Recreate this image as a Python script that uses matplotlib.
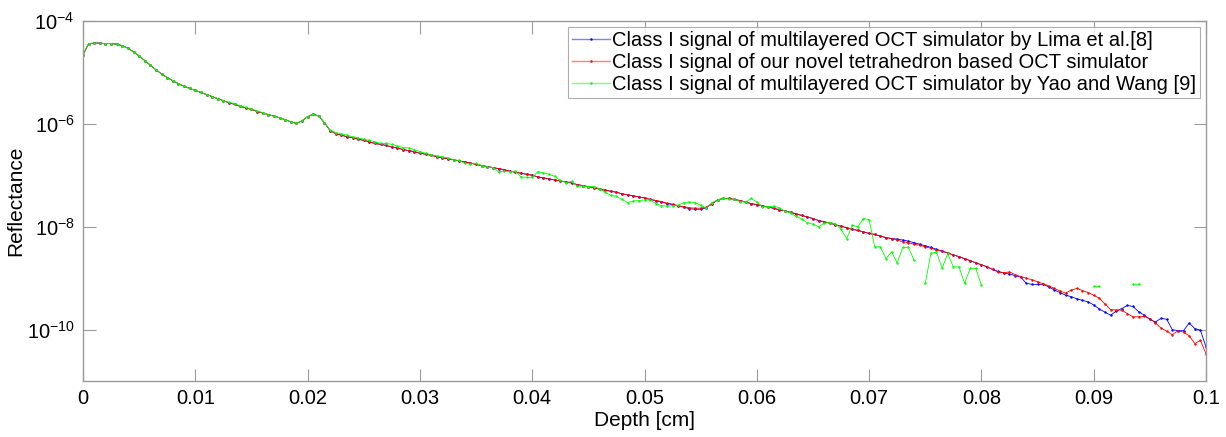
import numpy as np
import matplotlib
matplotlib.use("Agg")
import matplotlib.pyplot as plt

plt.rcParams["font.family"] = ["Liberation Sans", "DejaVu Sans"]
plt.rcParams["mathtext.fontset"] = "custom"
plt.rcParams["mathtext.rm"] = "Liberation Sans"
plt.rcParams["mathtext.default"] = "regular"

# depth grid, 0 .. 0.1 cm in 0.0005 steps (201 samples)
depth = np.arange(201) * 0.0005

# log10 reflectance
log_red = [
    -4.66, -4.44, -4.43, -4.43, -4.44, -4.44, -4.45, -4.48, -4.53, -4.60,
    -4.68, -4.77, -4.86, -4.95, -5.03, -5.10, -5.16, -5.22, -5.27, -5.31,
    -5.35, -5.39, -5.43, -5.47, -5.51, -5.55, -5.59, -5.62, -5.66, -5.69,
    -5.72, -5.76, -5.79, -5.82, -5.85, -5.88, -5.92, -5.96, -5.99, -5.94,
    -5.86, -5.81, -5.85, -5.98, -6.13, -6.19, -6.22, -6.25, -6.27, -6.30,
    -6.32, -6.35, -6.38, -6.40, -6.42, -6.45, -6.47, -6.50, -6.52, -6.54,
    -6.57, -6.59, -6.61, -6.64, -6.66, -6.68, -6.70, -6.72, -6.74, -6.76,
    -6.79, -6.81, -6.83, -6.85, -6.87, -6.89, -6.92, -6.94, -6.96, -6.98,
    -7.00, -7.03, -7.05, -7.07, -7.09, -7.11, -7.13, -7.15, -7.18, -7.20,
    -7.22, -7.24, -7.27, -7.29, -7.31, -7.33, -7.36, -7.38, -7.40, -7.42,
    -7.44, -7.47, -7.49, -7.51, -7.54, -7.56, -7.59, -7.61, -7.63, -7.64,
    -7.64, -7.62, -7.55, -7.48, -7.45, -7.45, -7.47, -7.49, -7.52, -7.55,
    -7.57, -7.59, -7.62, -7.64, -7.67, -7.69, -7.72, -7.75, -7.78, -7.81,
    -7.84, -7.88, -7.91, -7.93, -7.96, -7.99, -8.02, -8.05, -8.07, -8.10,
    -8.13, -8.15, -8.18, -8.21, -8.23, -8.26, -8.29, -8.31, -8.34, -8.36,
    -8.39, -8.42, -8.45, -8.48, -8.51, -8.55, -8.58, -8.62, -8.66, -8.70,
    -8.74, -8.78, -8.83, -8.88, -8.89, -8.88, -8.93, -8.97, -9.00, -9.03,
    -9.07, -9.11, -9.15, -9.20, -9.25, -9.29, -9.23, -9.20, -9.24, -9.28,
    -9.33, -9.39, -9.50, -9.61, -9.62, -9.62, -9.69, -9.75, -9.75, -9.74,
    -9.79, -9.87, -9.97, -10.03, -10.10, -10.02, -10.05, -10.12, -10.27, -10.21,
    -10.47,
]

log_blue = [
    -4.66, -4.44, -4.43, -4.43, -4.44, -4.44, -4.45, -4.48, -4.53, -4.60,
    -4.68, -4.77, -4.86, -4.95, -5.03, -5.10, -5.16, -5.22, -5.27, -5.31,
    -5.35, -5.39, -5.43, -5.47, -5.51, -5.55, -5.59, -5.62, -5.66, -5.69,
    -5.72, -5.76, -5.79, -5.82, -5.85, -5.88, -5.92, -5.96, -5.99, -5.94,
    -5.86, -5.81, -5.85, -5.98, -6.13, -6.19, -6.22, -6.25, -6.27, -6.30,
    -6.32, -6.35, -6.38, -6.40, -6.42, -6.45, -6.47, -6.50, -6.52, -6.54,
    -6.57, -6.59, -6.61, -6.64, -6.66, -6.68, -6.70, -6.72, -6.74, -6.76,
    -6.79, -6.81, -6.83, -6.85, -6.87, -6.89, -6.92, -6.94, -6.96, -6.98,
    -7.00, -7.03, -7.05, -7.07, -7.09, -7.11, -7.13, -7.15, -7.18, -7.20,
    -7.22, -7.24, -7.27, -7.29, -7.31, -7.33, -7.36, -7.38, -7.40, -7.42,
    -7.44, -7.47, -7.49, -7.52, -7.55, -7.57, -7.60, -7.62, -7.65, -7.66,
    -7.66, -7.63, -7.56, -7.48, -7.45, -7.45, -7.47, -7.49, -7.52, -7.55,
    -7.57, -7.59, -7.62, -7.64, -7.67, -7.69, -7.72, -7.75, -7.78, -7.81,
    -7.84, -7.88, -7.90, -7.93, -7.96, -7.99, -8.02, -8.05, -8.07, -8.10,
    -8.13, -8.15, -8.18, -8.21, -8.23, -8.24, -8.26, -8.28, -8.31, -8.34,
    -8.37, -8.40, -8.44, -8.47, -8.51, -8.55, -8.58, -8.62, -8.66, -8.70,
    -8.74, -8.78, -8.83, -8.87, -8.90, -8.92, -8.95, -8.98, -9.10, -9.12,
    -9.12, -9.12, -9.17, -9.23, -9.28, -9.33, -9.36, -9.40, -9.43, -9.46,
    -9.52, -9.60, -9.66, -9.72, -9.64, -9.59, -9.53, -9.55, -9.65, -9.72,
    -9.80, -9.85, -9.78, -9.80, -10.00, -10.02, -10.02, -9.87, -9.98, -10.01,
    -10.34,
]

nan = np.nan
log_green = [
    -4.66, -4.44, -4.43, -4.43, -4.44, -4.44, -4.45, -4.48, -4.53, -4.60,
    -4.68, -4.77, -4.86, -4.95, -5.03, -5.10, -5.16, -5.22, -5.27, -5.31,
    -5.35, -5.39, -5.43, -5.47, -5.51, -5.55, -5.58, -5.61, -5.65, -5.68,
    -5.71, -5.75, -5.78, -5.82, -5.85, -5.88, -5.92, -5.96, -5.99, -5.94,
    -5.86, -5.81, -5.85, -5.98, -6.12, -6.17, -6.19, -6.22, -6.25, -6.27,
    -6.30, -6.32, -6.35, -6.38, -6.38, -6.40, -6.43, -6.46, -6.47, -6.50,
    -6.54, -6.57, -6.60, -6.62, -6.64, -6.66, -6.70, -6.71, -6.77, -6.78,
    -6.77, -6.81, -6.84, -6.85, -6.93, -6.92, -6.93, -6.92, -7.03, -7.04,
    -7.04, -6.93, -6.95, -6.98, -7.02, -7.10, -7.14, -7.12, -7.21, -7.21,
    -7.22, -7.22, -7.26, -7.33, -7.39, -7.41, -7.47, -7.53, -7.50, -7.49,
    -7.48, -7.48, -7.55, -7.59, -7.60, -7.59, -7.58, -7.53, -7.52, -7.53,
    -7.58, -7.64, -7.53, -7.48, -7.45, -7.46, -7.47, -7.51, -7.52, -7.45,
    -7.52, -7.61, -7.61, -7.60, -7.63, -7.70, -7.73, -7.80, -7.85, -7.92,
    -7.95, -8.00, -7.93, -7.92, -7.94, -8.05, -8.23, -7.97, -8.00, -7.84,
    -7.86, -8.39, -8.39, -8.62, -8.49, -8.70, -8.40, -8.40, -8.65, nan,
    -9.10, -8.52, -8.49, -8.81, -8.52, -8.78, -8.78, -9.10, -8.81, -8.81,
    -9.14, nan, nan, nan, nan, nan, nan, nan, nan, nan,
    nan, nan, nan, nan, nan, nan, nan, nan, nan, nan,
    -9.16, -9.16, nan, nan, nan, nan, nan, -9.12, -9.12, nan,
    nan, nan, nan, nan, nan, nan, nan, nan, nan, nan,
    nan,
]

labels = [
    "Class I signal of multilayered OCT simulator by Lima et al.[8]",
    "Class I signal of our novel tetrahedron based OCT simulator",
    "Class I signal of multilayered OCT simulator by Yao and Wang [9]",
]
colors = ["#0000ff", "#ff0000", "#00ff00"]
legend_colors = ["#7f7fff", "#ff7f7f", "#7fff7f"]

x_ticks = [0, 0.01, 0.02, 0.03, 0.04, 0.05, 0.06, 0.07, 0.08, 0.09, 0.1]
x_tick_labels = ["0", "0.01", "0.02", "0.03", "0.04", "0.05", "0.06",
                 "0.07", "0.08", "0.09", "0.1"]
y_ticks = [1e-10, 1e-8, 1e-6, 1e-4]
y_tick_labels = [r"$10^{-10}$", r"$10^{-8}$", r"$10^{-6}$", r"$10^{-4}$"]


def main():
    fig = plt.figure(figsize=(12.26, 4.37), dpi=100)
    ax = fig.add_axes([0.0677, 0.128, 0.9160, 0.824])

    for vals, col, lab in zip([log_blue, log_red, log_green], colors, labels):
        ax.semilogy(depth, 10.0 ** np.asarray(vals, dtype=float), color=col,
                    linewidth=0.6, marker=".", markersize=1.5, label=lab)

    ax.set_xlim(0, 0.1)
    ax.set_ylim(1e-11, 1e-4)
    ax.set_xticks(x_ticks)
    ax.set_xticklabels(x_tick_labels)
    ax.set_yticks(y_ticks)
    ax.set_yticklabels(y_tick_labels)
    ax.minorticks_off()
    ax.tick_params(direction="in", length=9, width=0.8, color="#9a9a9a",
                   top=True, right=True, labelsize=14.5, pad=6)
    for s in ax.spines.values():
        s.set_color("#9a9a9a")
        s.set_linewidth(1.0)

    ax.set_xlabel("Depth [cm]", fontsize=15, labelpad=2)
    ax.set_ylabel("Reflectance", fontsize=15, labelpad=1)

    leg = ax.legend(loc="upper right", fontsize=14.5, frameon=True, fancybox=False,
                    borderaxespad=0.3, handlelength=1.9, handletextpad=0.1,
                    borderpad=0.2, labelspacing=0.15, markerscale=1.0)
    leg.get_frame().set_edgecolor("#9a9a9a")
    leg.get_frame().set_linewidth(0.8)
    for h, c, dark in zip(leg.get_lines(), legend_colors, colors):
        h.set_color(c)
        h.set_linewidth(1.0)
        h.set_markerfacecolor(dark)
        h.set_markeredgecolor(dark)

    fig.savefig("out.png", dpi=100)
    plt.close(fig)


if __name__ == "__main__":
    main()
